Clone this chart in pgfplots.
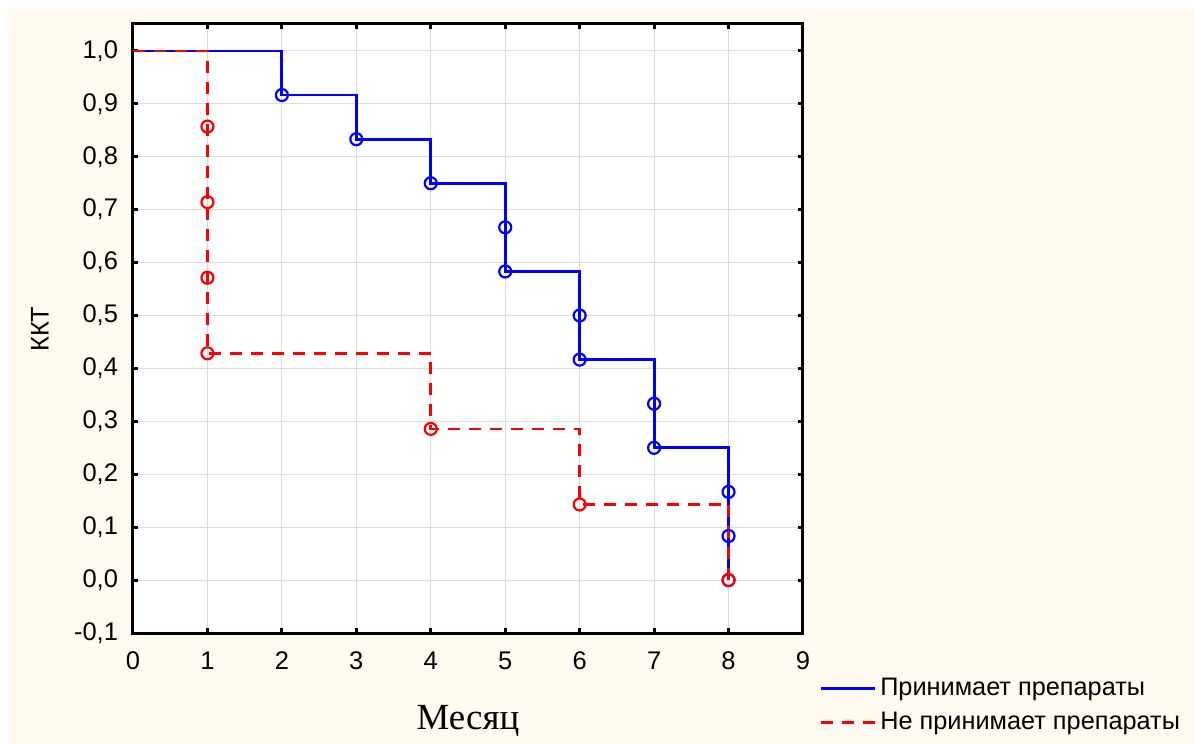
\documentclass[border=0pt]{standalone}
\usepackage{fontspec}
\setmainfont{Liberation Sans}
\newfontfamily\timesfont{Liberation Serif}
\usepackage{pgfplots}
\pgfplotsset{compat=1.18}
\definecolor{Cream}{HTML}{FFFAF0}
\definecolor{GridGray}{HTML}{DCDCDC}
\definecolor{KMBlue}{HTML}{0000FF}
\definecolor{KMRed}{HTML}{FF0000}

\begin{document}
\begin{tikzpicture}
% page background: thin white border, cream fill
\fill[white] (-66.5bp,-55.5bp) rectangle (531bp,316.5bp);
\fill[Cream] (-62.5bp,-55.5bp) rectangle (531bp,312bp);
\begin{axis}[
  at={(0,0)}, anchor=south west,
  scale only axis,
  width=335bp, height=304.5bp,
  xmin=0, xmax=9, ymin=-0.1, ymax=1.051,
  xtick={0,1,...,9},
  ytick={-0.1,0,0.1,0.2,0.3,0.4,0.5,0.6,0.7,0.8,0.9,1.0},
  tick align=inside,
  xtick pos=both, ytick pos=both,
  xticklabel pos=lower, yticklabel pos=left,
  major tick length=2.5bp,
  every tick/.style={black, line width=1.5bp},
  axis line style={line width=1.5bp},
  axis background/.style={fill=white},
  grid=major,
  grid style={GridGray, line width=0.5bp},
  tick label style={font=\fontsize{12.8}{14}\selectfont},
  yticklabel style={xshift=-4bp},
  xticklabel style={yshift=-6bp},
  /pgf/number format/assume math mode=true,
  yticklabel={\pgfmathprintnumber[fixed,fixed zerofill,precision=1,use comma]{\tick}},
  xticklabel={\pgfmathprintnumber[fixed,precision=0]{\tick}},
  xlabel={\timesfont Месяц},
  xlabel style={font=\fontsize{18.5}{20}\selectfont, at={(axis description cs:0.5,-0.159)}, anchor=base},
  ylabel={ККТ},
  ylabel style={font=\fontsize{12.8}{14}\selectfont, at={(axis description cs:-0.139,0.499)}, anchor=center},
  legend cell align=left,
  legend style={draw=none, fill=none, at={(rel axis cs:1.024,-0.067)}, anchor=north west,
    font=\fontsize{12.7}{14}\selectfont, inner sep=0pt, row sep=3bp},
  legend image code/.code={\draw[#1] (0bp,0bp) -- (22bp,0bp); \path (0bp,0bp) -- (27bp,0bp);},
]
% step curves
\addplot[const plot, KMBlue, line width=1.4bp] coordinates {
  (0,1) (2,0.9167) (3,0.8333) (4,0.75) (5,0.5833) (6,0.4167) (7,0.25) (8,0)
};
\addlegendentry{Принимает препараты}
\addplot[const plot, KMRed, line width=1.4bp, dash pattern=on 6bp off 4.5bp] coordinates {
  (0,1) (1,0.4286) (4,0.2857) (6,0.1429) (8,0)
};
\addlegendentry{Не принимает препараты}
% event marks
\addplot[only marks, forget plot, mark=o, mark size=3bp, KMBlue, line width=1.1bp] coordinates {
  (2,0.9167) (3,0.8333) (4,0.75) (5,0.6667) (5,0.5833) (6,0.5) (6,0.4167)
  (7,0.3333) (7,0.25) (8,0.1667) (8,0.0833) (8,0)
};
\addplot[only marks, forget plot, mark=o, mark size=3bp, KMRed, line width=1.1bp] coordinates {
  (1,0.8571) (1,0.7143) (1,0.5714) (1,0.4286) (4,0.2857) (6,0.1429) (8,0)
};
\end{axis}
\end{tikzpicture}
\end{document}
